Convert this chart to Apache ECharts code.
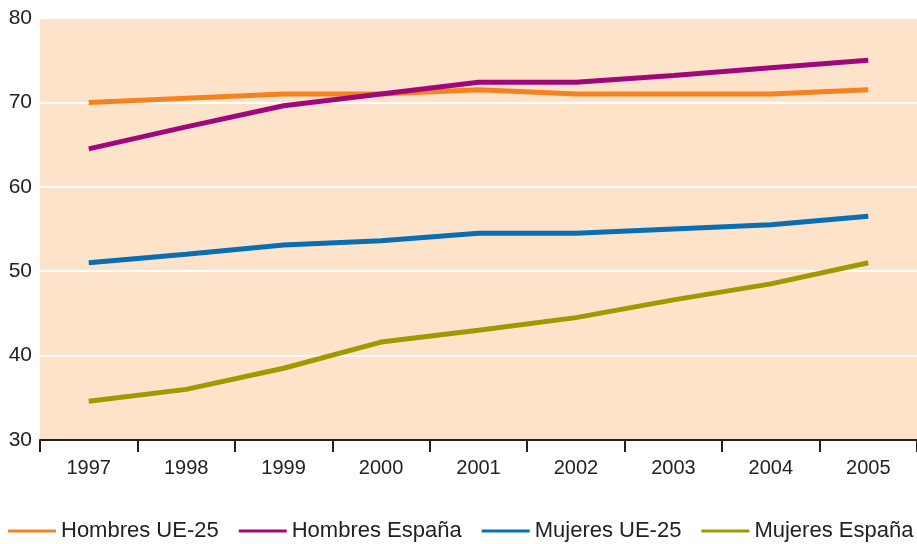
<!DOCTYPE html>
<html>
<head>
<meta charset="utf-8">
<script src="https://cdn.jsdelivr.net/npm/echarts@6/dist/echarts.min.js"></script>
<style>
  html, body { margin: 0; padding: 0; background: #fff; }
  #chart { width: 917px; height: 544px; }
</style>
</head>
<body>
<div id="chart"></div>
<script>
// años
var years = ['1997', '1998', '1999', '2000', '2001', '2002', '2003', '2004', '2005'];
// series
var hombresUE = [70.0, 70.5, 71.0, 71.0, 71.5, 71.0, 71.0, 71.0, 71.5];
var hombresEsp = [64.5, 67.1, 69.6, 71.0, 72.4, 72.4, 73.2, 74.1, 75.0];
var mujeresUE = [51.0, 52.0, 53.1, 53.6, 54.5, 54.5, 55.0, 55.5, 56.5];
var mujeresEsp = [34.6, 36.0, 38.5, 41.6, 43.0, 44.5, 46.6, 48.5, 51.0];
var seriesNames = ['Hombres UE-25', 'Hombres España', 'Mujeres UE-25', 'Mujeres España'];
var colors = ['#f5821f', '#a0077d', '#0a6eb4', '#9e9b00'];

var chart = echarts.init(document.getElementById('chart'));

function linea(name, data, color) {
    return {
        name: name,
        type: 'line',
        data: data,
        symbol: 'none',
        itemStyle: { color: color },
        lineStyle: { width: 5, color: color }
    };
}

var option = {
    animation: false,
    textStyle: { fontFamily: '"Liberation Sans", Arial, sans-serif', color: '#222' },
    grid: {
        left: 40,
        right: 0,
        top: 18,
        bottom: 104,
        show: true,
        backgroundColor: '#fde3c9',
        borderWidth: 0
    },
    legend: {
        left: 8,
        top: 520,
        width: 909,
        padding: 0,
        itemWidth: 48,
        itemHeight: 3,
        itemGap: 20,
        icon: 'rect',
        textStyle: { fontSize: 22, color: '#222' },
        data: seriesNames
    },
    xAxis: {
        type: 'category',
        data: years,
        boundaryGap: true,
        axisLine: { lineStyle: { color: '#222', width: 2 } },
        axisTick: { show: true, length: 12, lineStyle: { color: '#222', width: 2 } },
        axisLabel: { fontSize: 20, color: '#222', margin: 18 }
    },
    yAxis: {
        type: 'value',
        min: 30,
        max: 80,
        interval: 10,
        axisLine: { show: false },
        axisTick: { show: false },
        axisLabel: { fontSize: 21, color: '#222', margin: 8 },
        splitLine: { lineStyle: { color: '#ffffff', width: 2 } }
    },
    series: [
        linea(seriesNames[0], hombresUE, colors[0]),
        linea(seriesNames[1], hombresEsp, colors[1]),
        linea(seriesNames[2], mujeresUE, colors[2]),
        linea(seriesNames[3], mujeresEsp, colors[3])
    ]
};

chart.setOption(option);
</script>
</body>
</html>
